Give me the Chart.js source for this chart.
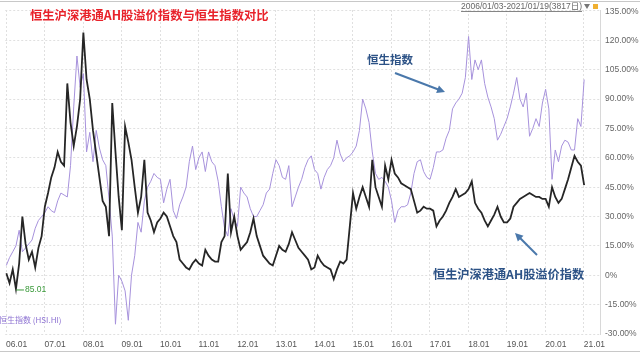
<!DOCTYPE html>
<html>
<head>
<meta charset="utf-8">
<script src="https://cdn.jsdelivr.net/npm/chart.js@4.4.1/dist/chart.umd.min.js"></script>
<style>
html,body{margin:0;padding:0;background:#fff;}
#wrap{width:640px;height:354px;position:relative;}
</style>
</head>
<body>
<div id="wrap"><canvas id="myChart" width="640" height="354"></canvas></div>
<script>
/* 数据：月度取值，单位 % */
var ahPremium = [
  1, -4, 3, -7, 6, 30, 16, 8, 12, 4, 14, 20,          // 2006
  35, 42, 50, 55, 63, 58, 56, 98, 78, 66, 76, 90,     // 2007
  124, 100, 90, 74, 62, 50, 38, 35, 20, 88, 63, 40,   // 2008
  23, 76, 68, 59, 45, 32, 40, 59, 32, 28, 22, 27,     // 2009
  29, 32, 30, 25, 20, 17, 8, 6, 4, 3, 6, 8,           // 2010
  6, 5, 13, 10, 8, 7, 7, 17, 20, 52, 22, 30,          // 2011
  20, 13, 15, 17, 22, 29, 20, 15, 10, 8, 6, 5,        // 2012
  10, 15, 13, 12, 16, 22, 18, 14, 12, 10, 8, 3,       // 2013
  4, 10, 7, 5, 4, 3, -2, 3, 7, 6, 8, 25,              // 2014
  42, 34, 40, 45, 40, 35, 59, 45, 40, 35, 56, 49,     // 2015
  59, 52, 50, 47, 46, 45, 44, 38, 32, 33, 35, 34,     // 2016
  34, 33, 25, 28, 30, 33, 37, 40, 44, 40, 41, 42,     // 2017
  44, 48, 37, 34, 32, 28, 25, 28, 31, 35, 30, 27,     // 2018
  27, 29, 35, 37, 39, 40, 41, 42, 41, 40, 40, 39,     // 2019
  39, 35, 45, 40, 37, 39, 44, 49, 55, 61, 58, 56,     // 2020
  46                                                  // 2021
];
var hsiChange = [
  5, 9, 12, 15, 23, 12, 14, 16, 18, 24, 28, 30,       // 2006
  32, 35, 33, 32, 38, 42, 41, 40, 56, 86, 112, 96,    // 2007
  103, 63, 73, 58, 74, 65, 59, 56, 39, 20, -25, 0,    // 2008
  -3, -8, -23, 0, 10, 27, 22, 38, 45, 48, 52, 50,     // 2009
  49, 37, 44, 49, 33, 29, 36, 40, 45, 58, 66, 54,     // 2010
  60, 63, 53, 63, 58, 56, 48, 35, 24, 20, 34, 28,     // 2011
  25, 45, 42, 40, 34, 30, 30, 33, 36, 42, 44, 52,     // 2012
  59, 56, 50, 49, 56, 35, 40, 45, 49, 55, 59, 61,     // 2013
  54, 52, 44, 50, 54, 56, 60, 69, 62, 58, 60, 61,     // 2014
  63, 66, 74, 90, 85, 78, 63, 52, 49, 50, 48, 45,     // 2015
  38, 27, 33, 35, 35, 36, 42, 52, 58, 59, 53, 50,     // 2016
  49, 55, 63, 63, 64, 70, 74, 85, 88, 90, 93, 101,    // 2017
  122, 100, 110, 105, 110, 98, 91, 86, 80, 69, 72, 76,// 2018
  80, 86, 93, 101, 90, 86, 93, 71, 75, 80, 76, 88,    // 2019
  95, 85, 49, 64, 58, 66, 69, 68, 64, 64, 80, 76,     // 2020
  100                                                 // 2021
];
var yearTicks = [2006, 2007, 2008, 2009, 2010, 2011, 2012, 2013, 2014, 2015, 2016, 2017, 2018, 2019, 2020, 2021];
var yearLabels = ['06.01', '07.01', '08.01', '09.01', '10.01', '11.01', '12.01', '13.01', '14.01', '15.01', '16.01', '17.01', '18.01', '19.01', '20.01', '21.01'];
var pctTicks = [-30, -15, 0, 15, 30, 45, 60, 75, 90, 105, 120, 135];
var minLabel = '85.01';
var titleText = '恒生沪深港通AH股溢价指数与恒生指数对比';
var rangeText = '2006/01/03-2021/01/19(3817日)';

// 每个月对应的横坐标（年份小数）
var monthX = [];
for (var i = 0; i < ahPremium.length; i++) {
  monthX.push(2006 + (i + 0.1) / 12);
}
function toPoints(arr) {
  return arr.map(function (v, i) { return { x: monthX[i], y: v }; });
}
function pctText(v) {
  return v === 0 ? '0%' : v.toFixed(2) + '%';
}

function arrow(ctx, x1, y1, x2, y2, color) {
  var a = Math.atan2(y2 - y1, x2 - x1);
  ctx.save();
  ctx.strokeStyle = color;
  ctx.fillStyle = color;
  ctx.lineWidth = 2;
  ctx.beginPath();
  ctx.moveTo(x1, y1);
  ctx.lineTo(x2 - 5 * Math.cos(a), y2 - 5 * Math.sin(a));
  ctx.stroke();
  ctx.beginPath();
  ctx.moveTo(x2, y2);
  ctx.lineTo(x2 - 8 * Math.cos(a) + 4 * Math.sin(a), y2 - 8 * Math.sin(a) - 4 * Math.cos(a));
  ctx.lineTo(x2 - 8 * Math.cos(a) - 4 * Math.sin(a), y2 - 8 * Math.sin(a) + 4 * Math.cos(a));
  ctx.closePath();
  ctx.fill();
  ctx.restore();
}

/* 标题、注释、右侧刻度文字 */
var overlay = {
  id: 'overlay',
  beforeDraw: function (chart) {
    var ctx = chart.ctx;
    ctx.save();
    ctx.fillStyle = '#fff';
    ctx.fillRect(0, 0, chart.width, chart.height);
    ctx.strokeStyle = '#c8c8c8';
    ctx.lineWidth = 1;
    ctx.beginPath();
    ctx.moveTo(0, 1.5); ctx.lineTo(640, 1.5);
    ctx.moveTo(0, 351.5); ctx.lineTo(640, 351.5);
    ctx.stroke();
    ctx.restore();
  },
  afterDraw: function (chart) {
    var ctx = chart.ctx;
    var xs = chart.scales.x, ys = chart.scales.y;
    ctx.save();
    ctx.textBaseline = 'middle';
    ctx.textAlign = 'left';

    // 右侧百分比刻度
    ctx.fillStyle = '#666';
    ctx.font = '8.5px "Liberation Sans"';
    var lx = chart.chartArea.right + 5;
    pctTicks.forEach(function (v) {
      var p = ys.getPixelForValue(v);
      var y = isFinite(p) ? Math.max(p, 12) : 12;
      ctx.fillText(pctText(v), lx, y);
    });

    ctx.fillStyle = '#e8222a';
    ctx.font = 'bold 12.3px "Noto Sans CJK SC"';
    ctx.fillText(titleText, 30, 15);

    // 时间区间
    ctx.fillStyle = '#666';
    ctx.font = '8.5px "Liberation Sans", "Noto Sans CJK SC"';
    ctx.textAlign = 'right';
    ctx.fillText(rangeText, 582, 7);
    var w = ctx.measureText(rangeText).width;
    ctx.strokeStyle = '#666';
    ctx.lineWidth = 0.8;
    ctx.beginPath();
    ctx.moveTo(582 - w, 11.5); ctx.lineTo(582, 11.5);
    ctx.stroke();
    ctx.textAlign = 'left';
    ctx.fillStyle = '#777';
    ctx.beginPath();
    ctx.moveTo(584, 4); ctx.lineTo(590, 4); ctx.lineTo(587, 9);
    ctx.closePath(); ctx.fill();
    ctx.fillStyle = '#f0b030';
    ctx.fillRect(593, 4, 5, 5);

    // 最低点标记
    var idx = 0;
    for (var i = 1; i < ahPremium.length; i++) {
      if (ahPremium[i] < ahPremium[idx]) idx = i;
    }
    var px = xs.getPixelForValue(monthX[idx]);
    var py = ys.getPixelForValue(ahPremium[idx]) + 1;
    ctx.strokeStyle = '#3a9a3a';
    ctx.lineWidth = 1;
    ctx.beginPath();
    ctx.moveTo(px, py); ctx.lineTo(px + 8, py);
    ctx.stroke();
    ctx.fillStyle = '#3a9a3a';
    ctx.font = '8.5px "Liberation Sans"';
    ctx.fillText(minLabel, px + 9, py);

    // 图例文字
    ctx.fillStyle = '#8d72d2';
    ctx.font = '8px "Noto Sans CJK SC"';
    ctx.fillText('恒生指数 (HSI.HI)', -1, 320);

    // 注释
    ctx.fillStyle = '#2c5286';
    ctx.font = 'bold 11.5px "Noto Sans CJK SC"';
    ctx.fillText('恒生指数', 367, 60);
    ctx.font = 'bold 12.2px "Noto Sans CJK SC"';
    ctx.fillText('恒生沪深港通AH股溢价指数', 433, 274);
    ctx.restore();

    arrow(ctx, 395, 73, 445, 92, '#4a78ab');
    arrow(ctx, 537, 255, 515, 233, '#4a78ab');
  }
};

var ctx = document.getElementById('myChart').getContext('2d');
var myChart = new Chart(ctx, {
  type: 'line',
  data: {
    datasets: [{
      label: '恒生沪深港通AH股溢价指数',
      data: toPoints(ahPremium),
      borderColor: '#262626',
      borderWidth: 1.8,
      pointRadius: 0,
      tension: 0
    }, {
      label: '恒生指数 (HSI.HI)',
      data: toPoints(hsiChange),
      borderColor: '#a792dc',
      borderWidth: 1,
      pointRadius: 0,
      tension: 0
    }]
  },
  options: {
    responsive: false,
    animation: false,
    devicePixelRatio: 1,
    layout: { padding: { top: 10, left: 0, right: 0, bottom: 0 } },
    plugins: {
      legend: { display: false },
      tooltip: { enabled: false }
    },
    scales: {
      x: {
        type: 'linear',
        min: 2005.98,
        max: 2021.42,
        afterBuildTicks: function (s) {
          s.ticks = yearTicks.map(function (v) { return { value: v }; });
        },
        afterFit: function (s) { s.height = 20; },
        ticks: {
          callback: function (v, i) { return yearLabels[i]; },
          align: 'start',
          autoSkip: false,
          maxRotation: 0,
          padding: 6,
          color: '#555',
          font: { size: 8.5, family: 'Liberation Sans' }
        },
        grid: { color: '#e0e0e0', drawTicks: false },
        border: { display: false, dash: [2, 2] }
      },
      y: {
        position: 'right',
        min: -30,
        max: 135.5,
        afterBuildTicks: function (s) {
          s.ticks = pctTicks.map(function (v) { return { value: v }; });
        },
        afterFit: function (s) { s.width = 40; },
        ticks: { display: false },
        grid: { color: '#e0e0e0', drawTicks: false },
        border: { display: true, color: '#d8d8d8', dash: [2, 2] }
      }
    }
  },
  plugins: [overlay]
});
</script>
</body>
</html>
